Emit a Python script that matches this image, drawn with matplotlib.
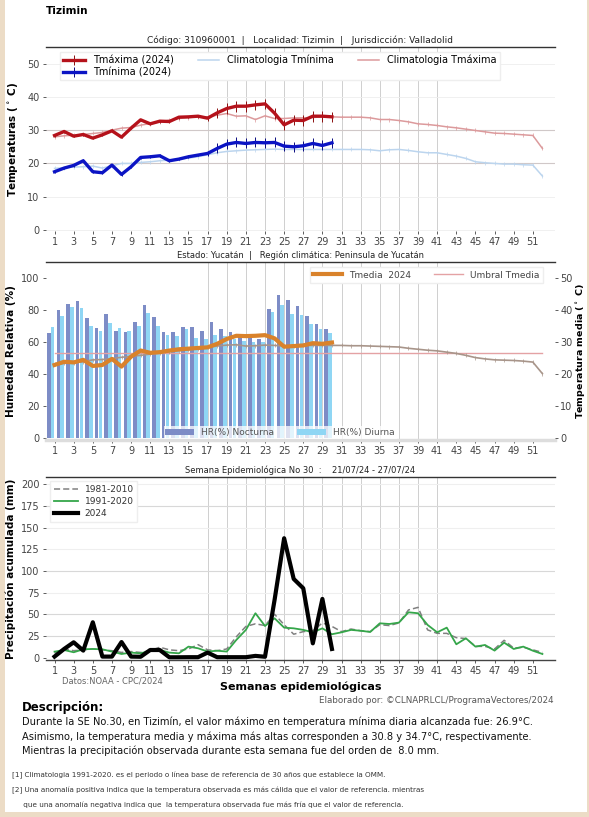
import matplotlib
matplotlib.use('Agg')
import matplotlib.pyplot as plt
from matplotlib.patches import Rectangle

# ---------------- data ----------------
weeks = list(range(1, 53))
weeks_2024 = list(range(1, 31))
xticks = list(range(1, 52, 2))
grid_weeks = list(range(17, 42, 2))

tmax_2024 = [28.4, 29.6, 28.2, 28.7, 27.6, 28.6, 29.8, 27.9, 30.6, 33.1,
             31.9, 32.7, 32.6, 33.9, 34.0, 34.2, 33.6, 35.2, 36.5, 37.2,
             37.2, 37.6, 37.9, 35.1, 31.6, 33.0, 32.9, 34.2, 34.2, 34.0]
tmax_err = [0.4] * 16 + [0.8] + [1.6] * 13
tmin_2024 = [17.5, 18.6, 19.4, 20.8, 17.5, 17.2, 19.5, 16.7, 19.0, 21.8,
             22.0, 22.3, 20.8, 21.3, 22.0, 22.5, 23.0, 24.5, 25.8, 26.3,
             26.0, 26.3, 26.2, 26.3, 25.2, 25.0, 25.3, 26.0, 25.4, 26.2]
tmin_err = [0.4] * 16 + [0.8] + [1.5] * 13
clim_tmax = [28.0, 28.3, 28.5, 28.7, 29.0, 29.3, 30.0, 30.6, 30.8, 31.5,
             32.0, 32.5, 33.0, 33.5, 33.8, 34.0, 34.0, 34.5, 35.0, 34.2,
             34.3, 33.2, 34.3, 33.5, 33.5, 33.7, 33.7, 33.8, 34.0, 34.0,
             33.9, 33.9, 33.9, 33.7, 33.2, 33.2, 32.9, 32.5, 31.9, 31.7,
             31.4, 31.0, 30.7, 30.3, 29.9, 29.5, 29.1, 29.0, 28.8, 28.6,
             28.4, 24.5]
clim_tmin = [18.5, 18.7, 18.9, 19.0, 19.2, 18.6, 19.3, 20.0, 20.0, 20.3,
             20.5, 20.8, 21.0, 21.3, 21.6, 22.0, 22.6, 23.2, 23.6, 23.8,
             24.0, 24.1, 24.2, 24.3, 24.2, 24.2, 24.2, 24.2, 24.2, 24.2,
             24.2, 24.2, 24.2, 24.1, 23.8, 24.1, 24.2, 23.9, 23.5, 23.2,
             23.2, 22.7, 22.2, 21.5, 20.5, 20.2, 20.0, 19.8, 19.8, 19.6,
             19.5, 16.2]

hr_nocturna = [65.6, 79.8, 84.0, 85.5, 75.2, 68.8, 77.3, 67.1, 66.5, 72.9,
               83.0, 75.7, 66.5, 66.5, 69.2, 69.6, 67.1, 72.9, 68.1, 66.5,
               64.0, 63.0, 62.0, 80.7, 89.4, 86.5, 82.3, 76.1, 71.5, 68.3]
hr_diurna = [69.2, 76.5, 82.1, 81.1, 70.4, 66.7, 71.7, 69.0, 67.1, 69.8,
             78.2, 70.4, 64.4, 64.0, 68.3, 62.5, 62.1, 64.2, 64.0, 62.0,
             61.0, 60.0, 60.0, 78.6, 83.4, 77.7, 77.1, 71.5, 68.3, 66.0]
tmedia_2024 = [22.9, 23.9, 23.7, 24.5, 22.6, 22.9, 24.8, 22.4, 25.5, 27.4,
               26.7, 26.9, 27.4, 27.8, 28.0, 28.2, 28.4, 29.5, 31.0, 32.0,
               31.9, 32.0, 32.2, 31.2, 28.6, 28.8, 29.0, 29.7, 29.5, 29.9]
clim_tmedia = [23.2, 23.4, 23.6, 23.9, 24.5, 24.6, 24.9, 25.3, 25.6, 25.9,
               26.3, 26.6, 27.0, 27.3, 27.6, 28.0, 28.4, 28.8, 29.1, 29.2,
               28.8, 28.9, 29.1, 29.0, 28.8, 28.9, 29.0, 29.0, 29.0, 29.0,
               29.0, 28.9, 28.9, 28.8, 28.7, 28.6, 28.5, 28.1, 27.8, 27.5,
               27.3, 26.9, 26.5, 25.9, 25.2, 24.8, 24.5, 24.4, 24.3, 24.1,
               23.8, 20.2]
umbral_tmedia = 26.5

prec_2024 = [1.2, 10.0, 17.7, 8.1, 40.8, 1.2, 1.2, 18.0, 1.2, 1.0,
             8.8, 8.8, 0.4, 0.4, 0.5, 0.5, 5.8, 0.5, 0.5, 0.5,
             0.5, 2.0, 1.0, 66.5, 137.7, 90.8, 80.0, 16.5, 67.7, 10.0]
prec_1991_2020 = [6.9, 8.8, 6.2, 9.6, 10.0, 9.6, 7.0, 4.2, 5.8, 5.0,
                  8.0, 8.8, 5.8, 5.0, 12.7, 10.8, 7.0, 8.0, 7.0, 20.4,
                  32.0, 51.2, 36.5, 45.4, 34.6, 33.8, 32.0, 29.2, 33.8, 27.0,
                  29.2, 32.0, 31.0, 29.6, 39.6, 38.8, 40.4, 52.3, 51.2, 37.7,
                  29.2, 34.6, 15.4, 22.3, 12.7, 14.6, 8.1, 17.3, 10.0, 12.7,
                  8.0, 4.2]
prec_1981_2010 = [5.0, 10.0, 8.0, 9.0, 10.0, 9.0, 8.0, 6.0, 7.0, 6.0,
                  8.0, 12.0, 9.0, 8.0, 10.0, 15.0, 9.0, 8.0, 10.0, 24.0,
                  36.0, 39.0, 37.0, 50.0, 38.0, 27.0, 30.0, 31.0, 40.0, 36.0,
                  30.0, 33.0, 31.0, 30.0, 38.0, 37.0, 40.0, 55.0, 58.0, 32.0,
                  28.0, 28.0, 23.0, 22.0, 13.0, 13.0, 10.0, 20.0, 11.0, 12.0,
                  9.0, 6.0]

# ---------------- figure ----------------
plt.rcParams['font.family'] = ['DejaVu Sans']
fig = plt.figure(figsize=(5.89, 8.17), dpi=100)
fig.patch.set_facecolor('#ecdcc6')
fig.add_artist(Rectangle((0.009, 0.006), 0.988, 0.994, transform=fig.transFigure,
                         facecolor='white', edgecolor='none', zorder=-10))

XL = (0.1, 53.3)
TICKC = '#444444'
AX_L, AX_W = 0.078, 0.864


def style(ax):
    ax.set_facecolor('white')
    for s in ['left', 'right', 'bottom']:
        ax.spines[s].set_visible(False)
    ax.spines['top'].set_color('#333333')
    ax.spines['top'].set_linewidth(1.0)
    ax.set_xlim(*XL)
    ax.set_xticks(xticks)
    ax.tick_params(axis='both', labelsize=7, colors=TICKC, length=2.5, width=0.6, pad=2)
    for w in grid_weeks:
        ax.axvline(w, color='#cfcfcf', lw=0.7, zorder=0)


# ---- top panel ----
ax1 = fig.add_axes([AX_L, 0.7173, AX_W, 0.2252])
style(ax1)
ax1.set_ylim(-0.3, 55)
ax1.set_yticks([0, 10, 20, 30, 40, 50])
for v in [0, 10, 40, 50]:
    ax1.axhline(v, color='#eeeeee', lw=0.6, zorder=0)
for v in [20, 30]:
    ax1.axhline(v, color='#d0c8c8', lw=0.8, zorder=0)
ax1.plot(weeks, clim_tmin, color='#bcd5ee', lw=1.1, label='Climatologia Tmínima', zorder=2)
ax1.plot(weeks, clim_tmin, color='#bcd5ee', lw=0, marker='|', ms=3, mew=0.5, zorder=2)
ax1.plot(weeks, clim_tmax, color='#dc9a9c', lw=1.1, label='Climatologia Tmáxima', zorder=2)
ax1.plot(weeks, clim_tmax, color='#dc9a9c', lw=0, marker='|', ms=3, mew=0.5, zorder=2)
ax1.errorbar(weeks_2024, tmax_2024, yerr=tmax_err, color='#b5121b', lw=2.4,
             elinewidth=0.7, ecolor='#8a1010', label='Tmáxima (2024)', zorder=3)
ax1.errorbar(weeks_2024, tmin_2024, yerr=tmin_err, color='#0b14c4', lw=2.4,
             elinewidth=0.7, ecolor='#0a0a80', label='Tmínima (2024)', zorder=3)
h, l = ax1.get_legend_handles_labels()
order = [l.index('Tmáxima (2024)'), l.index('Tmínima (2024)'),
         l.index('Climatologia Tmínima'), l.index('Climatologia Tmáxima')]
ax1.legend([h[i] for i in order], [l[i] for i in order], ncol=3, loc='upper center',
           bbox_to_anchor=(0.46, 1.0), fontsize=7, frameon=True, edgecolor='#eeeeee',
           framealpha=1, fancybox=False, handlelength=2.2, columnspacing=2.5,
           borderpad=0.3, labelspacing=0.2)
ax1.set_ylabel('Temperaturas ($^\\circ$ C)', fontsize=7.5, fontweight='bold', labelpad=5)
ax1.set_title('Código: 310960001  |   Localidad: Tizimin  |   Jurisdicción: Valladolid',
              fontsize=6.5, pad=3, color='#222222')

# ---- middle panel ----
ax2 = fig.add_axes([AX_L, 0.4614, AX_W, 0.2179])
style(ax2)
ax2.spines['bottom'].set_visible(True)
ax2.spines['bottom'].set_color('#dddddd')
ax2.spines['bottom'].set_linewidth(2.5)
ax2.set_ylim(-1, 110)
ax2.set_yticks([0, 20, 40, 60, 80, 100])
bx_n = [w - 0.6 for w in weeks_2024]
bx_d = [w - 0.2 for w in weeks_2024]
b1 = ax2.bar(bx_n, hr_nocturna, width=0.38, color='#7d8cc6', label='HR(%) Nocturna', zorder=1)
b2 = ax2.bar(bx_d, hr_diurna, width=0.38, color='#8fd6f4', label='HR(%) Diurna', zorder=1)
leg_b = ax2.legend(handles=[b1, b2], ncol=2, loc='lower center', bbox_to_anchor=(0.46, -0.02),
                   fontsize=6.5, frameon=True, framealpha=0.75, edgecolor='none',
                   fancybox=False, handlelength=3.2, handleheight=0.6, columnspacing=2.5,
                   borderpad=0.2)
for t in leg_b.get_texts():
    t.set_color('#555555')
ax2.set_ylabel('Humedad Relativa (%)', fontsize=7.5, fontweight='bold', labelpad=4)
ax2.set_title('Estado: Yucatán  |   Región climática: Peninsula de Yucatán',
              fontsize=6, pad=3, color='#222222')

ax2r = ax2.twinx()
ax2r.set_xlim(*XL)
ax2r.set_ylim(-0.5, 55)
for s in ['left', 'right', 'bottom', 'top']:
    ax2r.spines[s].set_visible(False)
ax2r.set_yticks([0, 10, 20, 30, 40, 50])
ax2r.tick_params(axis='y', labelsize=7, colors=TICKC, length=2.5, width=0.6, pad=1.5)
ax2r.plot(weeks, [umbral_tmedia] * len(weeks), color='#e4a2a4', lw=1.0,
          label='Umbral Tmedia', zorder=2)
ax2r.plot(weeks, clim_tmedia, color='#a8958a', lw=1.2, marker='|', ms=3, mew=0.5, zorder=2)
ax2r.plot(weeks_2024, tmedia_2024, color='#d9822b', lw=3.0, label='Tmedia  2024', zorder=3)
h, l = ax2r.get_legend_handles_labels()
leg_t = ax2r.legend([h[1], h[0]], [l[1], l[0]], ncol=2, loc='upper right',
                    bbox_to_anchor=(0.985, 0.995), fontsize=6.5, frameon=True,
                    edgecolor='#eeeeee', framealpha=1, fancybox=False,
                    handlelength=3.2, columnspacing=2.5, borderpad=0.35)
for t in leg_t.get_texts():
    t.set_color('#444444')
# right-hand axis title, placed as figure text so it stays inside the canvas
mid_y = 0.4614 + 0.2179 / 2
fig.text(0.9875, mid_y, 'Temperatura media ($^\\circ$ C)', fontsize=6.8, fontweight='bold',
         rotation=90, ha='center', va='center')

# ---- bottom panel ----
ax3 = fig.add_axes([AX_L, 0.1922, AX_W, 0.224])
style(ax3)
ax3.spines['bottom'].set_visible(True)
ax3.spines['bottom'].set_color('#444444')
ax3.spines['bottom'].set_linewidth(1.0)
ax3.set_ylim(-2.7, 208.4)
ax3.set_yticks([0, 25, 50, 75, 100, 125, 150, 175, 200])
for v in [25, 50, 75, 100, 125, 150, 175, 200]:
    c = '#d8d8d8' if v in (25, 50, 100, 175) else '#efefef'
    ax3.axhline(v, color=c, lw=0.8, zorder=0)
ax3.plot(weeks, prec_1981_2010, color='#808080', lw=1.1, ls=(0, (4, 2)),
         label='1981-2010', zorder=2)
ax3.plot(weeks, prec_1991_2020, color='#35a64a', lw=1.3, label='1991-2020', zorder=3)
ax3.plot(weeks_2024, prec_2024, color='black', lw=3.0, label='2024', zorder=4)
leg_p = ax3.legend(loc='upper left', bbox_to_anchor=(0.0, 1.0), fontsize=6.5,
                   frameon=True, edgecolor='#eeeeee', framealpha=1, fancybox=False,
                   handlelength=2.6, borderpad=0.4, labelspacing=0.35)
for t in leg_p.get_texts():
    t.set_color('#333333')
ax3.set_ylabel('Precipitación acumulada (mm)', fontsize=7.5, fontweight='bold', labelpad=4)
ax3.set_title('Semana Epidemiológica No 30  :    21/07/24 - 27/07/24',
              fontsize=6, pad=3, color='#222222')

# ---- texts ----
fig.text(0.078, 0.9865, 'Tizimin', fontsize=7.5, fontweight='bold', va='center', ha='left')
fig.text(0.105, 0.1665, 'Datos:NOAA - CPC/2024', fontsize=6, color='#666666', va='center')
fig.text(0.51, 0.159, 'Semanas epidemiológicas', fontsize=8, fontweight='bold',
         va='center', ha='center')
fig.text(0.94, 0.142, 'Elaborado por: ©CLNAPRLCL/ProgramaVectores/2024', fontsize=6.3,
         color='#555555', va='center', ha='right')
fig.text(0.037, 0.1335, 'Descripción:', fontsize=8.5, fontweight='bold', va='center')
desc = ['Durante la SE No.30, en Tizimín, el valor máximo en temperatura mínima diaria alcanzada fue: 26.9°C.',
        'Asimismo, la temperatura media y máxima más altas corresponden a 30.8 y 34.7°C, respectivamente.',
        'Mientras la precipitación observada durante esta semana fue del orden de  8.0 mm.']
for i, s in enumerate(desc):
    fig.text(0.037, 0.1165 - i * 0.0177, s, fontsize=7.1, va='center', color='#111111')
notes = ['[1] Climatologia 1991-2020. es el periodo o línea base de referencia de 30 años que establece la OMM.',
         '[2] Una anomalía positiva indica que la temperatura observada es más cálida que el valor de referencia. mientras',
         '     que una anomalía negativa indica que  la temperatura observada fue más fría que el valor de referencia.']
for i, s in enumerate(notes):
    fig.text(0.02, 0.0505 - i * 0.0178, s, fontsize=5.2, va='center', color='#333333')

fig.savefig('out.png', dpi=100, facecolor=fig.get_facecolor())
